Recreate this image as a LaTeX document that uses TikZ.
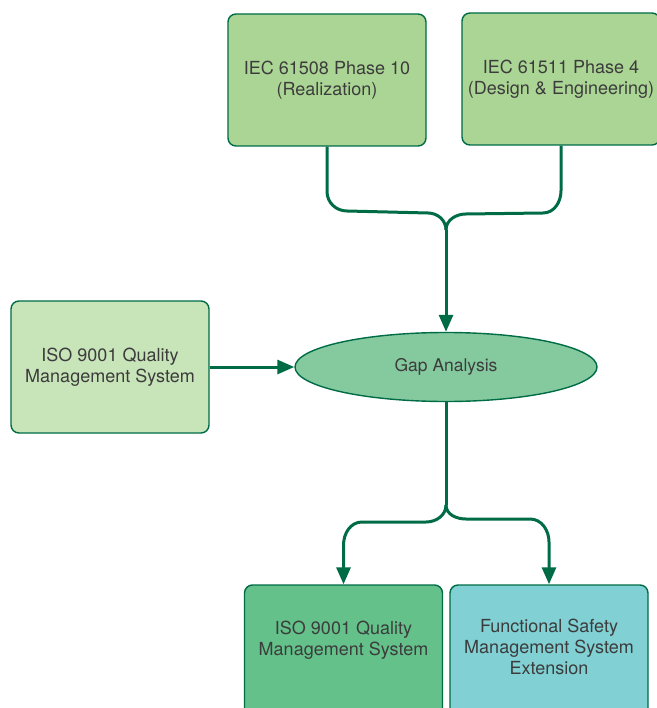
\documentclass[tikz,border=0pt]{standalone}
\usepackage{fontspec}
\setsansfont{TeX Gyre Heros}
\usetikzlibrary{positioning, arrows.meta, shapes.geometric}
\definecolor{pine}{RGB}{0,108,70}
\definecolor{leaf}{RGB}{171,213,148}
\definecolor{pale}{RGB}{200,228,185}
\definecolor{fern}{RGB}{132,202,158}
\definecolor{moss}{RGB}{100,193,138}
\definecolor{aqua}{RGB}{128,208,212}
\definecolor{ink}{RGB}{60,60,60}
\begin{document}
\begin{tikzpicture}[x=1pt, y=-1pt,
  box/.style={draw=pine, line width=1.4pt, rounded corners=8pt, minimum width=198pt, minimum height=132pt, inner xsep=2pt, align=center, font=\sffamily\fontsize{18}{21}\selectfont, text=ink},
  link/.style={pine, line width=3pt},
  tip/.style={link, -{Triangle[length=17pt, width=14pt]}}]
\useasboundingbox (0,0) rectangle (656,708);
\node[box, fill=leaf] (iec8) at (327,80) {IEC 61508 Phase 10\\(Realization)};
\node[box, fill=leaf] (iec11) at (561,79) {IEC 61511 Phase 4\\(Design \& Engineering)};
\node[box, fill=pale] (iso) at (110,367) {ISO 9001 Quality\\Management System};
\node[ellipse, draw=pine, line width=1.4pt, fill=fern, minimum width=302pt, minimum height=69pt, font=\sffamily\fontsize{17.5}{21}\selectfont, text=ink] (gap) at (446,367) {Gap Analysis};
\node[box, fill=moss, text depth=26pt] (qms) at (343.5,651) {ISO 9001 Quality\\Management System};
\node[box, fill=aqua, text depth=9pt] (fsms) at (549,651) {Functional Safety\\Management System\\Extension};
% inputs
\coordinate (merge) at (446,230);
\draw[link] (iec8.south) -- ++(0,45) to[out=-90,in=180] (347,211) -- (428,213) to[out=0,in=90] (merge);
\draw[link] (iec11.south) -- ++(0,45) to[out=-90,in=0] (543,213) -- (466,214) to[out=180,in=90] (merge);
\draw[tip] (merge) -- (gap.north);
\draw[tip] (iso.east) -- (gap.west);
% outputs
\coordinate (split) at (446,505);
\draw[link] (gap.south) -- (split);
\draw[tip] (split) to[out=-90,in=0] (426,522) -- (362,522) to[out=180,in=90] (qms.north |- 0,545) -- (qms.north);
\draw[tip] (split) to[out=-90,in=180] (466,519) -- (530,519) to[out=0,in=90] (fsms.north |- 0,542) -- (fsms.north);
\end{tikzpicture}
\end{document}
